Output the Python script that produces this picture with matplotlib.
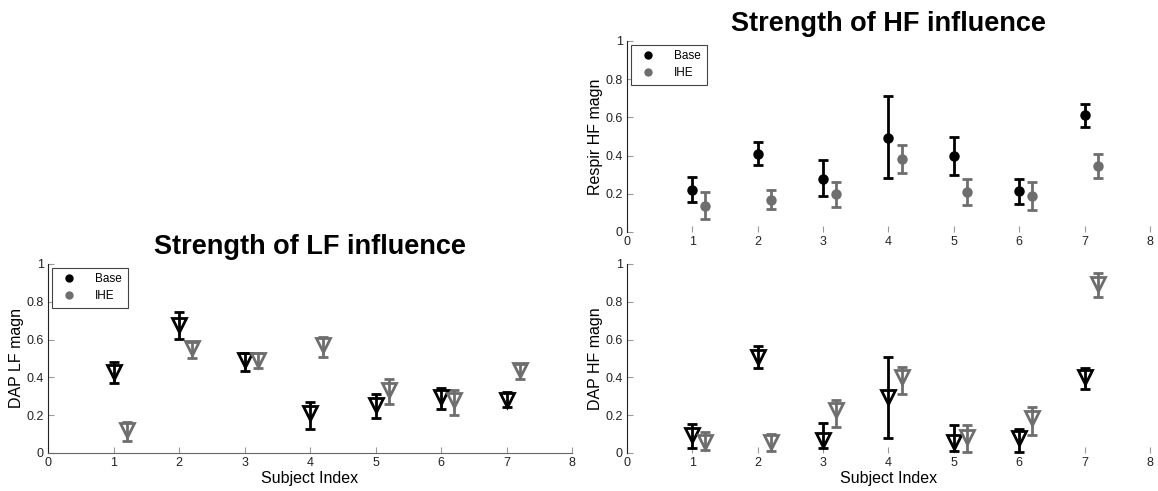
import numpy as np
import matplotlib.pyplot as plt
from matplotlib.lines import Line2D

plt.rcParams['font.family'] = ['Liberation Sans', 'DejaVu Sans']

subjects = np.arange(1, 8)
offset = 0.2

# DAP LF magnitude (value, lower bar end, upper bar end)
lf_base = [0.43, 0.677, 0.492, 0.21, 0.254, 0.298, 0.28]
lf_base_lo = [0.369, 0.605, 0.436, 0.125, 0.183, 0.235, 0.245]
lf_base_hi = [0.483, 0.744, 0.531, 0.272, 0.31, 0.344, 0.321]
lf_ihe = [0.122, 0.554, 0.492, 0.571, 0.333, 0.28, 0.439]
lf_ihe_lo = [0.065, 0.501, 0.448, 0.51, 0.259, 0.201, 0.393]
lf_ihe_hi = [0.162, 0.589, 0.527, 0.614, 0.392, 0.333, 0.473]

# Respiratory HF magnitude
resp_base = [0.218, 0.409, 0.28, 0.493, 0.397, 0.213, 0.612]
resp_base_lo = [0.156, 0.35, 0.189, 0.281, 0.30, 0.149, 0.552]
resp_base_hi = [0.287, 0.472, 0.376, 0.71, 0.497, 0.28, 0.67]
resp_ihe = [0.138, 0.17, 0.199, 0.383, 0.208, 0.187, 0.344]
resp_ihe_lo = [0.07, 0.122, 0.131, 0.309, 0.14, 0.117, 0.283]
resp_ihe_hi = [0.21, 0.218, 0.264, 0.456, 0.28, 0.26, 0.406]

# DAP HF magnitude
hf_base = [0.095, 0.51, 0.069, 0.298, 0.06, 0.078, 0.404]
hf_base_lo = [0.028, 0.448, 0.025, 0.081, 0.01, 0.007, 0.337]
hf_base_hi = [0.153, 0.568, 0.157, 0.506, 0.146, 0.129, 0.448]
hf_ihe = [0.06, 0.06, 0.228, 0.404, 0.086, 0.183, 0.894]
hf_ihe_lo = [0.016, 0.01, 0.139, 0.314, 0.007, 0.095, 0.824]
hf_ihe_hi = [0.113, 0.099, 0.282, 0.455, 0.146, 0.242, 0.952]

BLACK = '#000000'
GRAY = '#6e6e6e'


def draw_series(ax, x, y, lo, hi, color, marker):
    y = np.array(y)
    yerr = [y - np.array(lo), np.array(hi) - y]
    ax.errorbar(x, y, yerr=yerr, fmt=marker, color=color, ecolor=color,
                elinewidth=2, capsize=3.5, capthick=2,
                markersize=10 if marker == 'v' else 5.5,
                markerfacecolor='none' if marker == 'v' else color,
                markeredgecolor=color, markeredgewidth=2)


def style_axes(ax, ylabel, bottom_line=True):
    ax.set_xlim(0, 8)
    ax.set_ylim(0, 1)
    ax.set_xticks(range(0, 9))
    ax.set_yticks([0, 0.2, 0.4, 0.6, 0.8, 1])
    ax.set_yticklabels(['0', '0.2', '0.4', '0.6', '0.8', '1'])
    ax.spines['top'].set_visible(False)
    ax.spines['right'].set_visible(False)
    ax.spines['left'].set_color('#222222')
    if bottom_line:
        ax.spines['bottom'].set_color('#666666')
    else:
        ax.spines['bottom'].set_visible(False)
    ax.tick_params(direction='in', length=4, labelsize=9, colors='#999999',
                   labelcolor='#222222', pad=3)
    ax.set_ylabel(ylabel, fontsize=11.5, labelpad=2)
    handles = [Line2D([], [], ls='none', marker='o', color=BLACK, markersize=5),
               Line2D([], [], ls='none', marker='o', color=GRAY, markersize=5)]
    leg = ax.legend(handles, ['Base', 'IHE'], loc='upper left', fontsize=8.5,
                    fancybox=False, framealpha=1, edgecolor='#444444',
                    borderaxespad=0.3, handletextpad=1.2, borderpad=0.5,
                    labelspacing=0.4)
    leg.get_frame().set_linewidth(0.8)


fig = plt.figure(figsize=(11.58, 4.91), dpi=100)

ax_lf = fig.add_axes([0.0415, 0.0774, 0.4525, 0.385])
draw_series(ax_lf, subjects, lf_base, lf_base_lo, lf_base_hi, BLACK, 'v')
draw_series(ax_lf, subjects + offset, lf_ihe, lf_ihe_lo, lf_ihe_hi, GRAY, 'v')
style_axes(ax_lf, 'DAP LF magn')
ax_lf.set_xlabel('Subject Index', fontsize=11.5, labelpad=1)
ax_lf.set_title('Strength of LF influence', fontsize=19.5, fontweight='bold', pad=7)

ax_resp = fig.add_axes([0.5415, 0.5275, 0.4515, 0.389])
draw_series(ax_resp, subjects, resp_base, resp_base_lo, resp_base_hi, BLACK, 'o')
draw_series(ax_resp, subjects + offset, resp_ihe, resp_ihe_lo, resp_ihe_hi, GRAY, 'o')
style_axes(ax_resp, 'Respir HF magn', bottom_line=False)
ax_resp.set_title('Strength of HF influence', fontsize=19.5, fontweight='bold', pad=7)

ax_hf = fig.add_axes([0.5415, 0.0774, 0.4515, 0.385])
draw_series(ax_hf, subjects, hf_base, hf_base_lo, hf_base_hi, BLACK, 'v')
draw_series(ax_hf, subjects + offset, hf_ihe, hf_ihe_lo, hf_ihe_hi, GRAY, 'v')
style_axes(ax_hf, 'DAP HF magn', bottom_line=False)
ax_hf.get_legend().remove()
ax_hf.set_xlabel('Subject Index', fontsize=11.5, labelpad=1)

fig.savefig('out.png', dpi=100, facecolor='white')
